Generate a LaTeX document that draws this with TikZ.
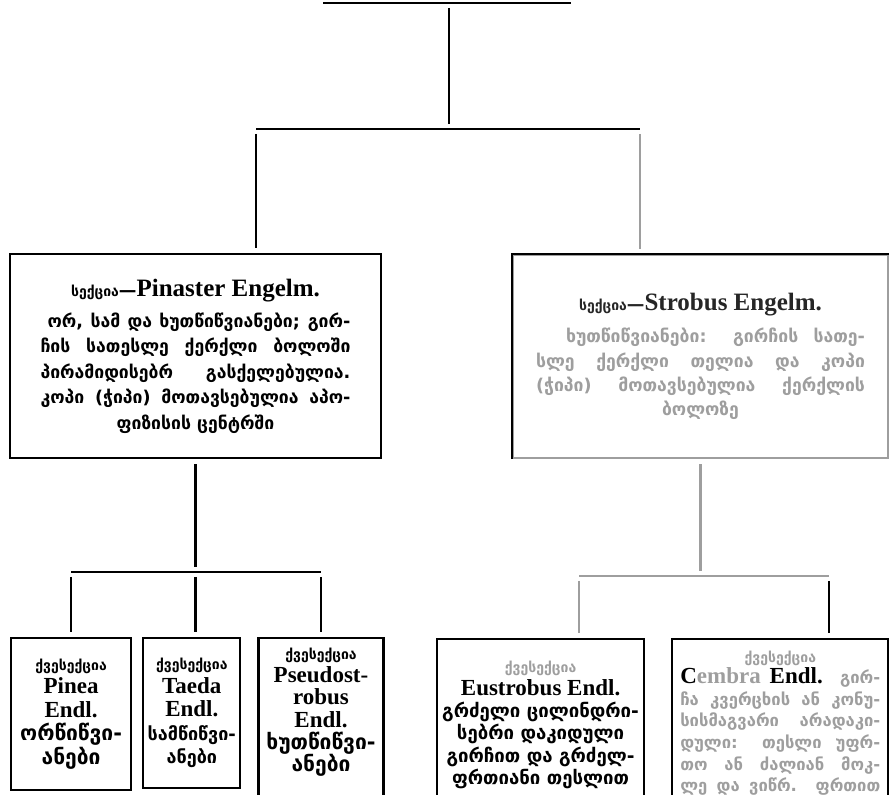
\documentclass[tikz,border=0pt]{standalone}
\usepackage{fontspec}
\setmainfont{DejaVu Sans}
\newfontfamily\latfont{Liberation Serif}
\newcommand\lat[1]{{\latfont\bfseries\fontsize{12.5}{13}\selectfont #1}}
\newcommand\latb[1]{{\latfont\bfseries\fontsize{11.5}{12}\selectfont #1}}
\newcommand\geosmall{\fontsize{7}{9}\selectfont}
\newcommand\jl[2]{\makebox[#1][s]{#2}}
\usetikzlibrary{positioning}
\colorlet{faded}{black!38}

\begin{document}
\begin{tikzpicture}[x=0.5pt, y=-0.5pt,
        line/.style={line width=1.1pt},
        bar/.style={line width=1.3pt},
        gap/.style={shorten <=2.5pt, shorten >=2.5pt},
        sect/.style={rectangle, draw, line width=1.1pt, inner sep=0pt, align=center,
                     font=\bfseries\fontsize{8.8}{12.7}\selectfont},
        sub/.style={rectangle, draw, line width=1.1pt, inner sep=0pt, align=center,
                    font=\bfseries\fontsize{10.5}{11.8}\selectfont, anchor=north west}]
      \useasboundingbox (0,0) rectangle (890,795);

      % sections
      \node[sect, minimum width=185.5pt, minimum height=102pt] (pin) at (195.5,356)
        {{\geosmall სექცია}—\lat{Pinaster Engelm.}\\[3pt]
         \jl{155pt}{\hspace*{3.5pt}ორ, სამ და ხუთწიწვიანები; გირ-}\\
         \jl{155pt}{ჩის სათესლე ქერქლი ბოლოში}\\
         \jl{155pt}{პირამიდისებრ გასქელებულია.}\\
         \jl{155pt}{კოპი (ჭიპი) მოთავსებულია აპო-}\\
         ფიზისის ცენტრში};
      \node[sect, draw=faded, text=faded, minimum width=187.5pt, minimum height=101.5pt,
            font=\bfseries\fontsize{8.8}{12.2}\selectfont] (str) at (700.5,356.5)
        {{\color{black!85}{\geosmall სექცია}—\lat{Strobus Engelm.}}\\[4pt]
         \jl{164.5pt}{\hspace*{15pt}ხუთწიწვიანები: გირჩის სათე-}\\
         \jl{164.5pt}{სლე ქერქლი თელია და კოპი}\\
         \jl{164.5pt}{(ჭიპი) მოთავსებულია ქერქლის}\\
         ბოლოზე};
      \draw[line] (str.south west) -- (str.north west) -- (str.north east);

      % subsections
      \node[sub, minimum width=60pt, minimum height=76pt] (pinea) at (10,637)
        {{\geosmall ქვესექცია}\\ \latb{Pinea}\\ \latb{Endl.}\\ ორწიწვი-\\ ანები};
      \node[sub, minimum width=48.5pt, minimum height=75pt, right=5pt of pinea.north east, anchor=north west,
            font=\bfseries\fontsize{9}{11.8}\selectfont] (taeda)
        {{\geosmall ქვესექცია}\\ \latb{Taeda}\\ \latb{Endl.}\\ სამწიწვი-\\ ანები};
      \node[sub, minimum width=62.5pt, minimum height=82pt, text depth=10pt, right=8pt of taeda.north east,
            anchor=north west, font=\bfseries\fontsize{10.5}{11.2}\selectfont] (pseudo)
        {{\geosmall ქვესექცია}\\ \latb{Pseudost-}\\ \latb{robus}\\ \latb{Endl.}\\ ხუთწიწვი-\\ ანები};
      \node[sub, minimum width=103.5pt, minimum height=86pt, font=\bfseries\fontsize{9.3}{11.2}\selectfont] (eus) at (436,638)
        {{\geosmall\color{faded}ქვესექცია}\\ \latb{Eustrobus Endl.}\\ გრძელი ცილინდრი-\\ სებრი დაკიდული\\
         გირჩით და გრძელ-\\ ფრთიანი თესლით};
      \node[sub, minimum width=108pt, minimum height=84pt, right=13pt of eus.north east, anchor=north west,
            font=\bfseries\fontsize{8.3}{10.8}\selectfont, text=faded] (cem)
        {{\geosmall ქვესექცია}\\
         \jl{100pt}{\latb{{\color{black}C}embra {\color{black}Endl.}} გირ-}\\
         \jl{100pt}{ჩა კვერცხის ან კონუ-}\\
         \jl{100pt}{სისმაგვარი არადაკი-}\\
         \jl{100pt}{დული: თესლი უფრ-}\\
         \jl{100pt}{თო ან ძალიან მოკ-}\\
         \jl{100pt}{ლე და ვიწრ. ფრთით}};

      % tree
      \coordinate (r) at (449,3);
      \coordinate (s1) at (449,129);
      \coordinate (s1L) at (256,129);
      \coordinate (s1R) at (640,129);
      \coordinate (s2) at (0,572);
      \coordinate (s3L) at (579,576);
      \coordinate (s3R) at (829,576);
      \draw[bar] (323,3) -- (571,3);
      \draw[line, gap] (r) -- (s1);
      \draw[bar] (s1L) -- (s1) -- (s1R);
      \draw[line, gap] (s1L) -- (s1L |- pin.north);
      \draw[line, gap, faded] (s1R) -- (s1R |- str.north);
      \draw[line, gap] (pin.south) -- (pin.south |- s2);
      \draw[bar] (pinea.north |- s2) -- (pseudo.north |- s2);
      \draw[line, gap] (pinea.north |- s2) -- (pinea.north);
      \draw[line, gap] (pin.south |- s2) -- (pin.south |- taeda.north);
      \draw[line, gap] (pseudo.north |- s2) -- (pseudo.north);
      \draw[line, gap, faded] (str.south) -- (str.south |- s3L);
      \draw[bar, faded] (s3L) -- (s3R);
      \draw[line, gap, faded] (s3L) -- (s3L |- eus.north);
      \draw[line, gap] (s3R) -- (s3R |- cem.north);
    \end{tikzpicture}
\end{document}
